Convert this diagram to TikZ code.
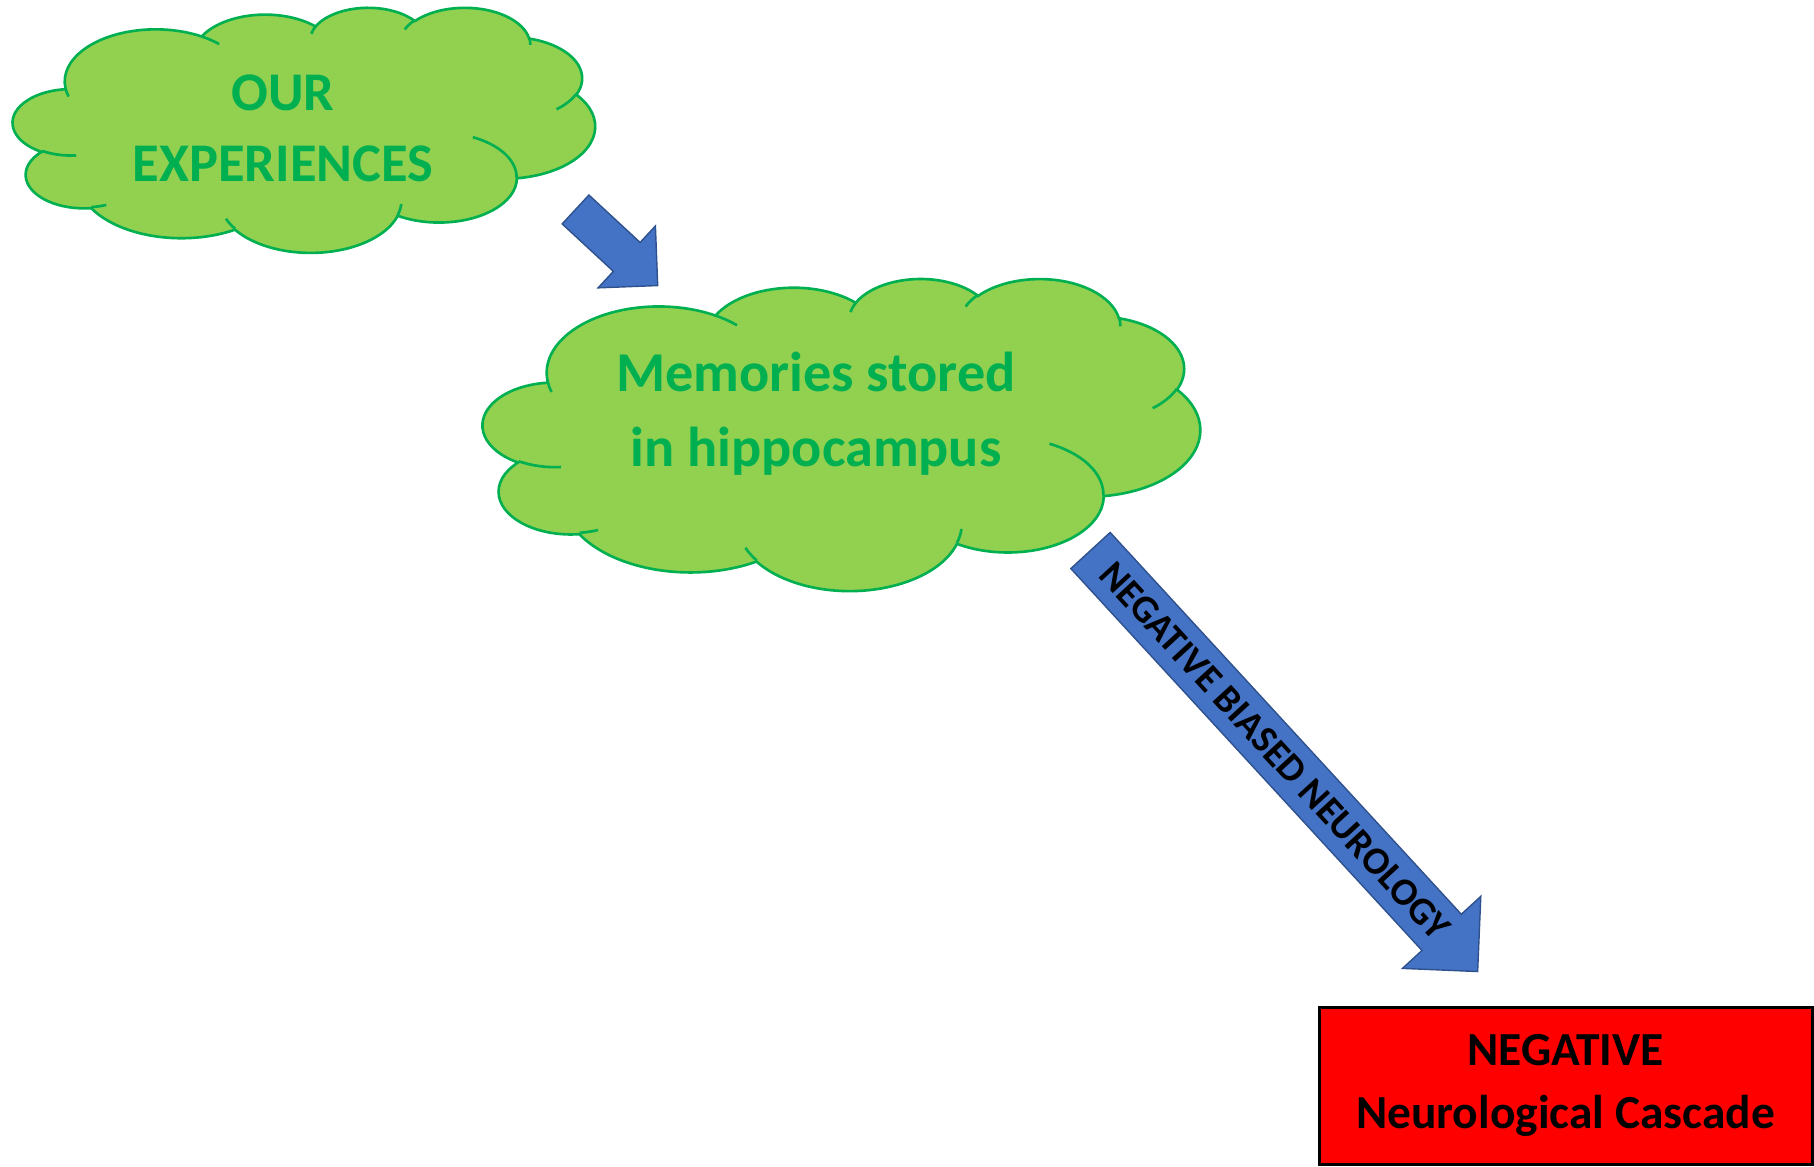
\documentclass[tikz,border=0pt]{standalone}
\usepackage{fontspec}
\setmainfont{Carlito}
\usepackage{tikz}
\usetikzlibrary{shapes.arrows}
\definecolor{cloudfill}{HTML}{92D050}
\definecolor{cloudgreen}{HTML}{00B050}
\definecolor{arrowfill}{HTML}{4472C4}
\definecolor{arrowline}{HTML}{2F528F}

% visual angle -> ellipse parameter angle
\pgfmathdeclarefunction{ooskew}{2}{%
    \begingroup
    \pgfmathparse{atan(((#2)-1)*sin(#1)*cos(#1)/(cos(#1)*cos(#1)+(#2)*sin(#1)*sin(#1)))}%
    \pgfmathsmuggle\pgfmathresult
    \endgroup}
\tikzset{ooarc/.style n args={4}{x radius={#1}, y radius={#2},
    start angle={#3+ooskew(#3,#1/#2)},
    delta angle={#4+ooskew(#3+#4,#1/#2)-ooskew(#3,#1/#2)}}}

% cloud outline filling the box of node #1 (width #2, height #3 in cm)
\newcommand{\puffcloud}[3]{%
    \begin{scope}[shift={(#1.north west)}, xscale=#2/43.2, yscale=-#3/43.2]
        \filldraw[draw=cloudgreen, fill=cloudfill, line width=0.75pt] (3.900,14.370)
            arc[ooarc={6.753}{9.190}{-190.4875}{123.7805}]
            arc[ooarc={5.333}{7.267}{-144.1024}{89.9452}]
            arc[ooarc={4.365}{5.945}{-145.8079}{99.7230}]
            arc[ooarc={4.857}{6.595}{-130.9861}{117.2417}]
            arc[ooarc={5.333}{7.273}{-78.7089}{109.0269}]
            arc[ooarc={6.775}{9.220}{-46.2673}{130.2690}]
            arc[ooarc={5.785}{7.867}{0.6250}{114.0333}]
            arc[ooarc={6.752}{9.215}{22.4516}{115.1726}]
            arc[ooarc={7.720}{10.543}{66.2426}{75.7110}]
            arc[ooarc={4.360}{5.918}{-274.9421}{146.7356}]
            arc[ooarc={4.345}{5.945}{-246.8285}{152.5189}] -- cycle;
        \draw[cloudgreen, line width=0.75pt]
            (4.693,26.177) arc[ooarc={4.345}{5.945}{86.742}{26.4295}]
            (6.928,34.899) arc[ooarc={4.360}{5.918}{73.6105}{11.4475}]
            (16.478,39.090) arc[ooarc={6.752}{9.215}{137.6241}{14.0811}]
            (28.827,34.751) arc[ooarc={6.752}{9.215}{6.4533}{15.9984}]
            (34.129,22.954) arc[ooarc={5.785}{7.867}{-70.2924}{70.9174}]
            (41.798,15.354) arc[ooarc={5.333}{7.273}{30.3180}{27.7515}]
            (38.324,5.426) arc[ooarc={4.857}{6.595}{-13.7443}{14.8589}]
            (29.078,3.952) arc[ooarc={4.857}{6.595}{-149.1815}{18.1954}]
            (22.141,4.720) arc[ooarc={4.365}{5.945}{-163.4943}{17.6864}]
            (14.000,5.192) arc[ooarc={6.753}{9.190}{-66.7070}{12.3194}]
            (4.127,15.789) arc[ooarc={6.753}{9.190}{157.6544}{11.8582}];
    \end{scope}}

\begin{document}
\begin{tikzpicture}[
        cloudbox/.style={inner sep=0pt, outer sep=0pt},
        cloudlabel/.style={text=cloudgreen, align=center},
        bluearrow/.style={single arrow, draw=arrowline, fill=arrowfill, line width=0.4pt,
            inner xsep=0pt, text depth=0pt, anchor=tail}
    ]
        \useasboundingbox (0,0) rectangle (18.14,-11.67);
        \node[cloudbox, minimum width=5.82cm, minimum height=2.45cm] (exp) at (3.04,-1.295) {};
        \puffcloud{exp}{5.82}{2.45}
        \node[cloudlabel, font=\bfseries\fontsize{15.5}{20.2}\selectfont] (exptext) at (2.83,-1.285) {OUR\\EXPERIENCES};
        \node[cloudbox, minimum width=7.17cm, minimum height=3.12cm] (mem) at (8.415,-4.34) {};
        \puffcloud{mem}{7.17}{3.12}
        \node[cloudlabel, font=\bfseries\fontsize{16}{21.3}\selectfont] (memtext) at (8.16,-4.135) {Memories stored\\in hippocampus};
        \node[bluearrow, rotate=-42.8, minimum height=1.12cm, text height=0pt, inner ysep=5.4pt,
            single arrow head extend=6.4pt] (toMem) at (5.75,-2.09) {};
        \node[bluearrow, rotate=-47.4, minimum height=5.72cm, text height=7.1pt, inner ysep=3.85pt,
            single arrow head extend=7.54pt, font=\bfseries\fontsize{11}{12}\selectfont] (bias) at (10.90,-5.50) {NEGATIVE BIASED NEUROLOGY};
        \node[draw=black, fill=red, line width=0.85pt, minimum width=4.93cm, minimum height=1.57cm,
            align=center, font=\bfseries\fontsize{13.5}{17.9}\selectfont] (cascade) at (15.655,-10.855) {NEGATIVE\\Neurological Cascade};
    \end{tikzpicture}
\end{document}
